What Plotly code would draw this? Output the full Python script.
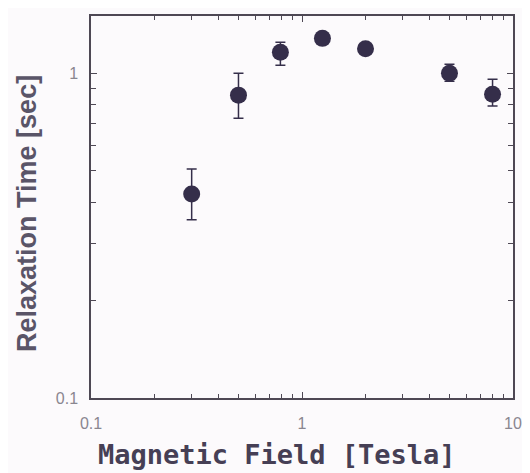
import plotly.graph_objects as go
import numpy as np

field = [0.3, 0.5, 0.79, 1.25, 2.0, 5.0, 8.0]
relax = [0.425, 0.856, 1.16, 1.28, 1.19, 1.00, 0.862]
err_plus = [0.082, 0.144, 0.085, 0.03, 0.03, 0.066, 0.096]
err_minus = [0.071, 0.129, 0.102, 0.03, 0.03, 0.055, 0.070]

x_tickvals = [0.1, 1, 10]
x_ticktext = ["0.1", "1", "10"]
y_tickvals = [0.1, 1]
y_ticktext = ["0.1", "1"]
minor_vals = [m * d for d in (0.1, 1) for m in range(2, 10)]

marker_col = "#352e4a"
axis_col = "#4e4854"

fig = go.Figure()
fig.add_trace(go.Scatter(
    x=field, y=relax, mode="markers",
    marker=dict(size=17, color=marker_col),
    error_y=dict(type="data", symmetric=False, array=err_plus, arrayminus=err_minus,
                 color=marker_col, thickness=1.5, width=5),
    showlegend=False,
))

tickfont = dict(family="Liberation Sans, Arial, sans-serif", size=16, color="#8a8690")

fig.update_xaxes(
    type="log", range=[-1, 1],
    tickvals=x_tickvals, ticktext=x_ticktext,
    ticks="inside", ticklen=6, tickwidth=1, tickcolor=axis_col,
    minor=dict(tickvals=minor_vals, ticks="inside", ticklen=4, tickcolor=axis_col, showgrid=False),
    showline=True, linecolor=axis_col, linewidth=1.5, mirror="allticks",
    showgrid=False, zeroline=False, tickfont=tickfont, ticklabelstandoff=10,
)
fig.update_yaxes(
    type="log", range=[-1, np.log10(1.5)],
    tickvals=y_tickvals, ticktext=y_ticktext,
    ticks="inside", ticklen=6, tickwidth=1, tickcolor=axis_col,
    minor=dict(tickvals=minor_vals, ticks="inside", ticklen=5, tickcolor=axis_col, showgrid=False),
    showline=True, linecolor=axis_col, linewidth=1.5, mirror="allticks",
    showgrid=False, zeroline=False, tickfont=tickfont, ticklabelstandoff=8,
)

fig.add_annotation(
    text="<b>Magnetic Field [Tesla]</b>", xref="paper", yref="paper",
    x=0.441, y=-0.148, showarrow=False, xanchor="center", yanchor="middle",
    font=dict(family="DejaVu Sans Mono, monospace", size=27, color="#463f55"),
)
fig.add_annotation(
    text="<b>Relaxation Time [sec]</b>", xref="paper", yref="paper",
    x=-0.152, y=0.484, showarrow=False, xanchor="center", yanchor="middle", textangle=-90,
    font=dict(family="Liberation Sans, Arial, sans-serif", size=27, color="#5a5568"),
)

fig.update_layout(
    width=522, height=465,
    margin=dict(l=83, r=17, t=6, b=75),
    paper_bgcolor="#fcfafc", plot_bgcolor="#fcfafc",
)

fig.write_html("out.html")
